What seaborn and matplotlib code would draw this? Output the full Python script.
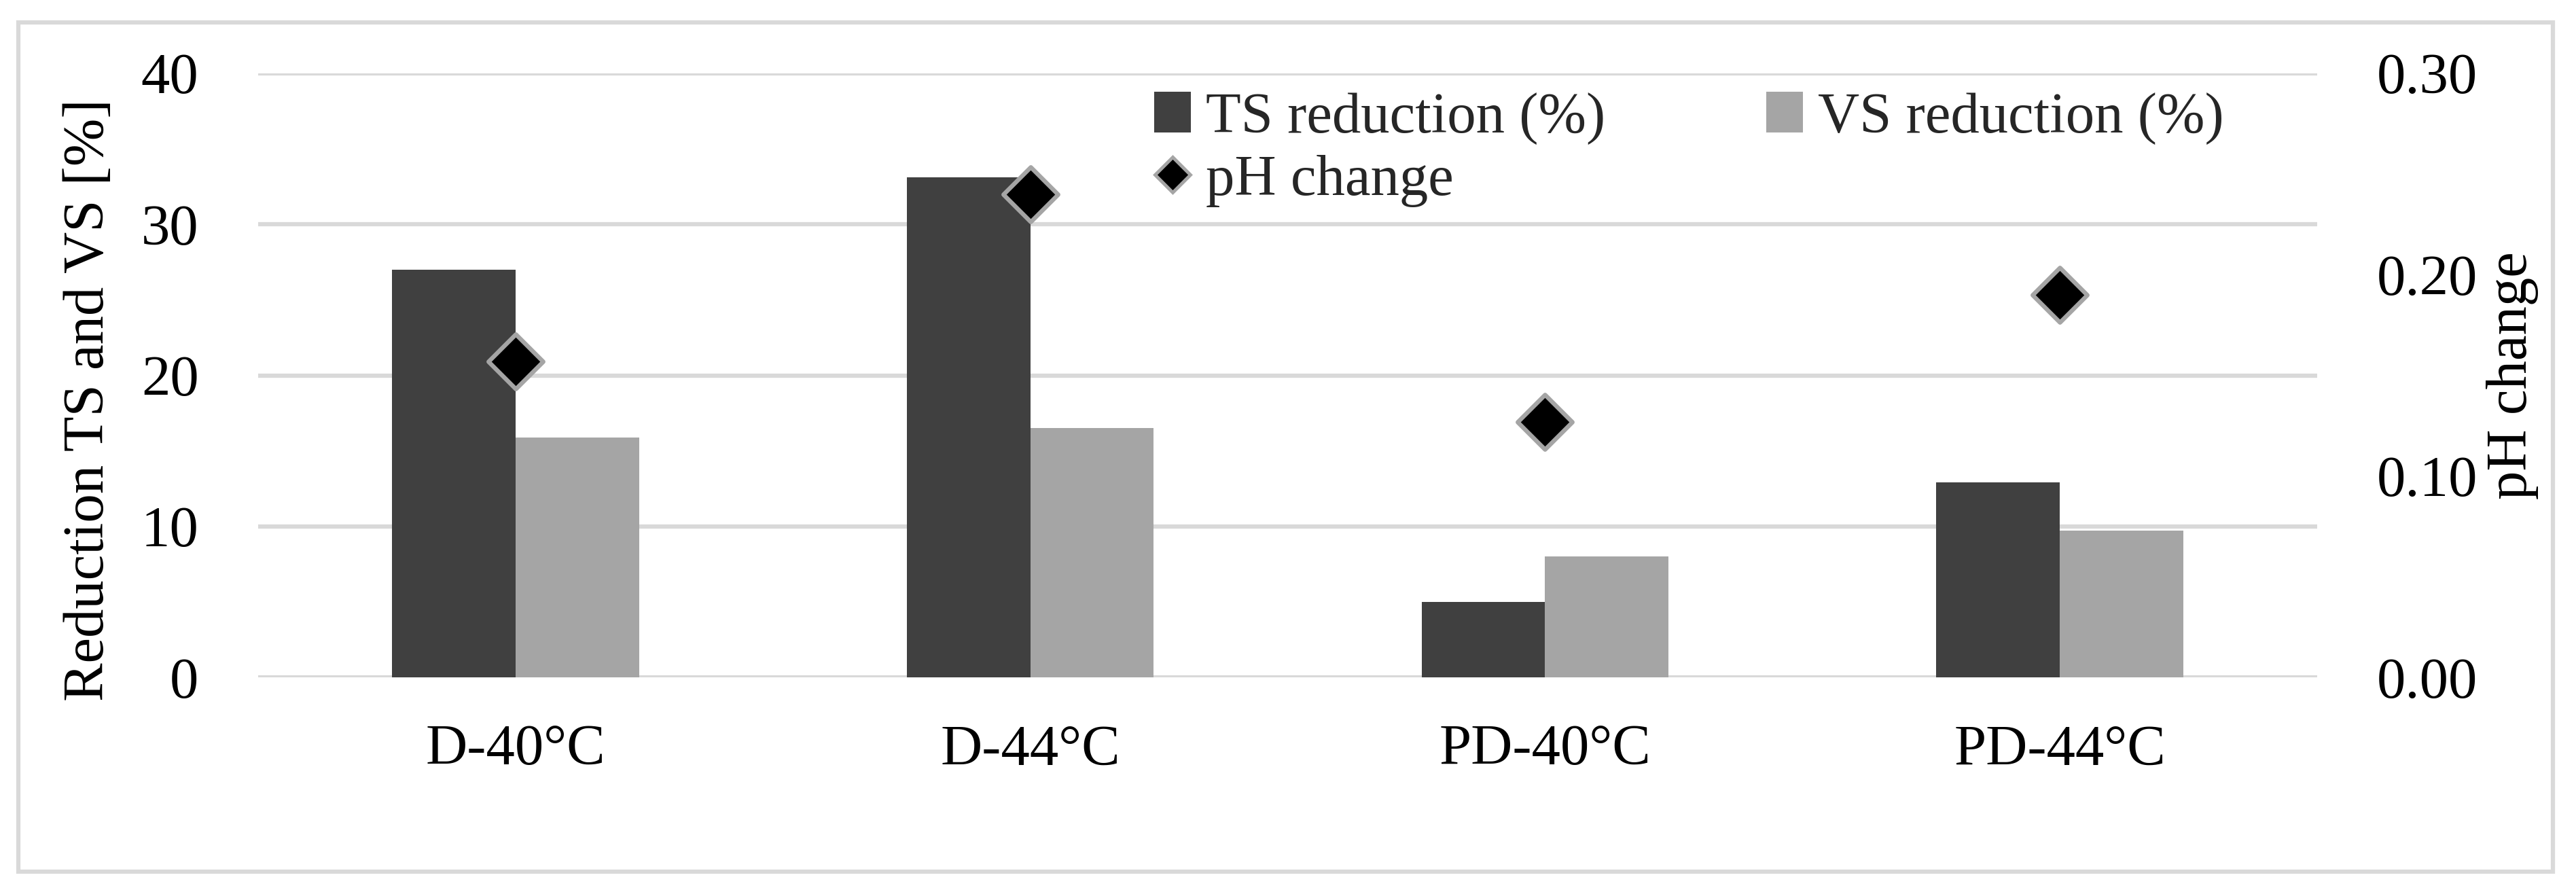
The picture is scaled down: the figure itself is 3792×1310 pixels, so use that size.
import numpy as np
import pandas as pd
import matplotlib
matplotlib.use("Agg")
import matplotlib.pyplot as plt
from matplotlib.patches import Patch, Rectangle
from matplotlib.lines import Line2D
import seaborn as sns

# ---- data ----
categories = ["D-40°C", "D-44°C", "PD-40°C", "PD-44°C"]
ts_reduction = [27.0, 33.1, 5.0, 12.9]
vs_reduction = [15.9, 16.5, 8.0, 9.7]
ph_change = [0.157, 0.240, 0.127, 0.190]
series_names = ["TS reduction (%)", "VS reduction (%)"]
ph_name = "pH change"
left_ticks = [0, 10, 20, 30, 40]
right_ticks = [0.0, 0.1, 0.2, 0.3]

sns.set_theme(style="white")
plt.rcParams["font.family"] = ["Liberation Serif", "DejaVu Serif"]

FS = 61
DARK = "#404040"
LIGHT = "#a5a5a5"
GRID = "#d9d9d9"

df = pd.DataFrame({
    "category": categories * 2,
    "series": [series_names[0]] * 4 + [series_names[1]] * 4,
    "value": ts_reduction + vs_reduction,
})

fig = plt.figure(figsize=(37.92, 13.10), dpi=100)
fig.patch.set_facecolor("white")
# outer chart-area frame
fig.patches.append(Rectangle((27 / 3792, 1 - 1283 / 1310), (3758 - 27) / 3792, (1283 - 33) / 1310,
                             transform=fig.transFigure, fill=False, edgecolor=GRID, lw=4.5))

ax = fig.add_axes([380 / 3792, 1 - 997 / 1310, (3411 - 380) / 3792, (997 - 108) / 1310])
sns.barplot(data=df, x="category", y="value", hue="series", palette=[DARK, LIGHT],
            width=0.48, gap=0, saturation=1, errorbar=None, legend=False, ax=ax,
            linewidth=0)
ax.set_ylim(0, 40)
ax.set_yticks(left_ticks)
ax.set_xlim(-0.5, 3.5)
ax.yaxis.grid(True, color=GRID, lw=4.5)
ax.xaxis.grid(False)
ax.set_axisbelow(True)
for s in ax.spines.values():
    s.set_visible(False)
ax.tick_params(axis="both", length=0, labelsize=FS, colors="black")
ax.tick_params(axis="y", pad=63)
ax.tick_params(axis="x", pad=50)
ax.set_xlabel("")
ax.set_ylabel("Reduction TS and VS [%]", fontsize=FS, color="black")
ax.yaxis.set_label_coords(-0.0693, 0.459)

ax2 = ax.twinx()
sns.stripplot(x=categories, y=ph_change, ax=ax2, jitter=False, marker="D", size=41,
              color="black", edgecolor=LIGHT, linewidth=4.6, zorder=5)
ax2.set_ylim(0, 0.3)
ax2.set_yticks(right_ticks)
ax2.set_yticklabels([f"{v:.2f}" for v in right_ticks])
ax2.set_xlim(-0.5, 3.5)
ax2.grid(False)
for s in ax2.spines.values():
    s.set_visible(False)
ax2.tick_params(axis="y", length=0, labelsize=FS, colors="black", pad=63)
ax2.set_ylabel(ph_name, fontsize=FS, color="black")
ax2.yaxis.set_label_coords(1.0821, 0.5)

handles = [
    Patch(facecolor=DARK, edgecolor="none", label=series_names[0]),
    Line2D([], [], ls="none", marker="D", markersize=26, markerfacecolor="black",
           markeredgecolor=LIGHT, markeredgewidth=3.5, label=ph_name),
    Patch(facecolor=LIGHT, edgecolor="none", label=series_names[1]),
]
leg = ax2.legend(handles=handles, ncol=2, loc="upper left",
                 bbox_to_anchor=(1699 / 3792, 0.897), bbox_transform=fig.transFigure,
                 frameon=False, fontsize=FS, borderpad=0, borderaxespad=0,
                 handlelength=0.64, handleheight=0.72, handletextpad=0.26,
                 columnspacing=2.79, labelspacing=0.17)

fig.savefig("out.png", dpi=100, facecolor="white")
